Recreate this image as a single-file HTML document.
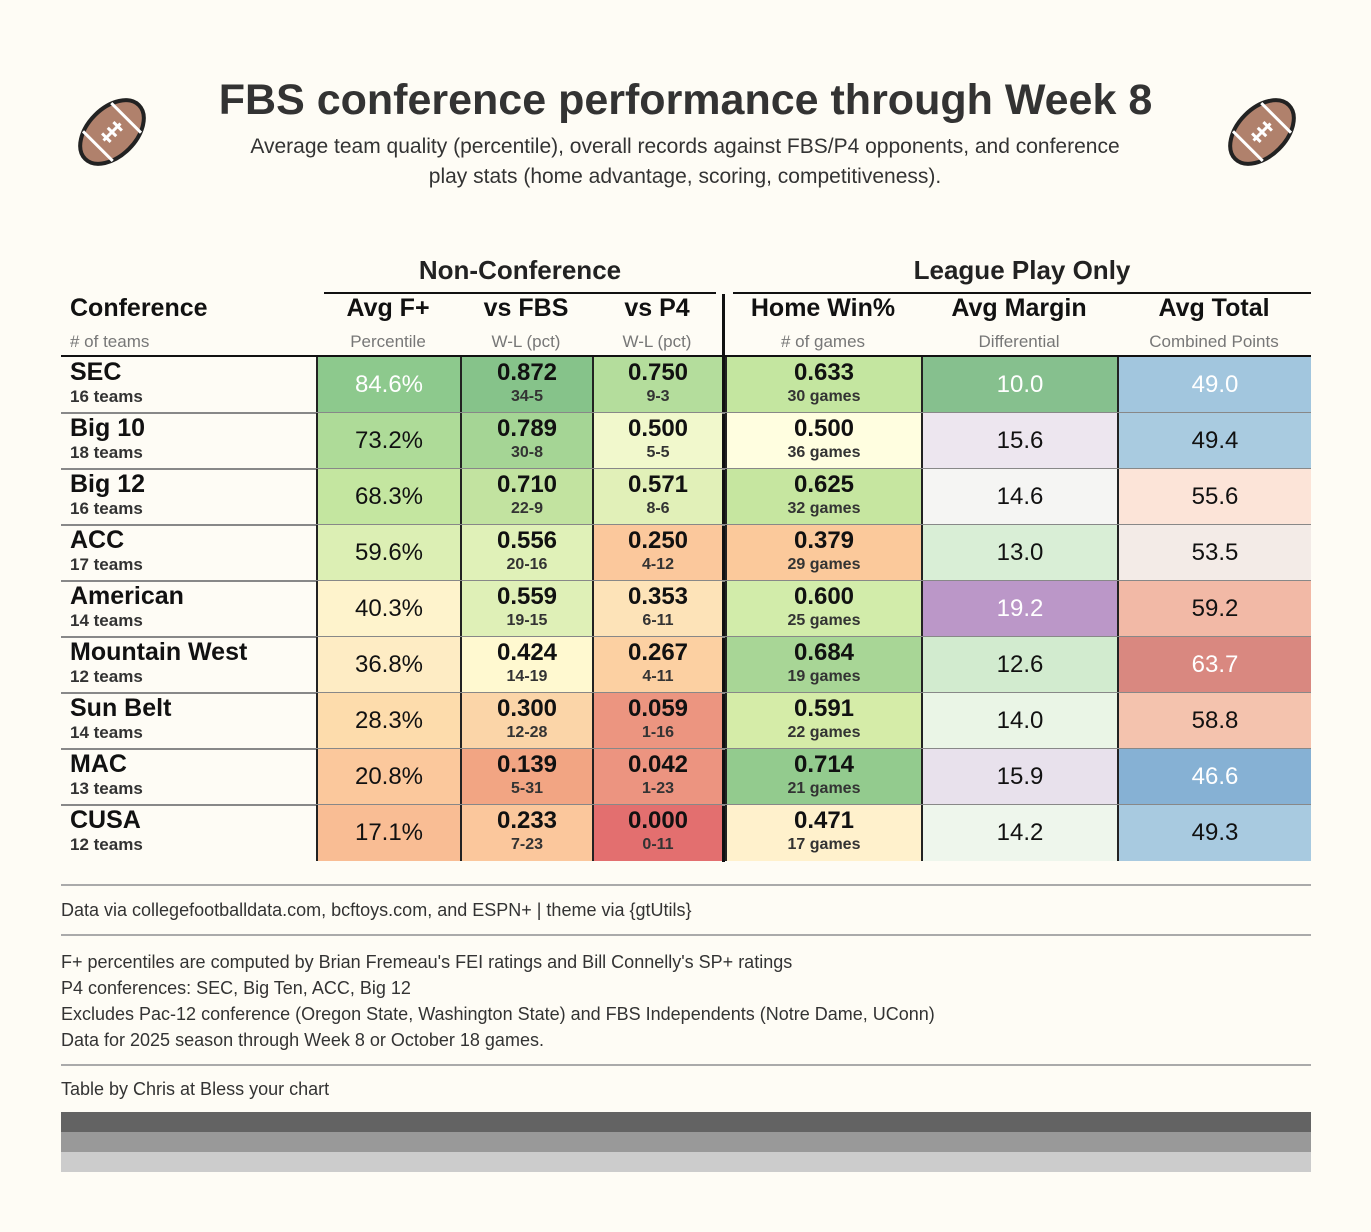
<!DOCTYPE html>
<html><head><meta charset="utf-8"><style>
body{margin:0;background:#fefcf5;font-family:"Liberation Sans","DejaVu Sans",sans-serif;color:#111}
#root{position:relative;width:1371px;height:1232px;overflow:hidden}
.a{position:absolute}
.c{text-align:center}
</style></head><body><div id="root">
<svg class="a" style="left:72px;top:93px" width="80" height="78" viewBox="0 0 80 78">
<g transform="rotate(-45 40 39)"><ellipse cx="40" cy="39" rx="38" ry="24" fill="#b0816c" stroke="#222" stroke-width="4"/>
<line x1="20" y1="18" x2="20" y2="60" stroke="#fff" stroke-width="3"/><line x1="60" y1="18" x2="60" y2="60" stroke="#fff" stroke-width="3"/>
<line x1="28" y1="39" x2="52" y2="39" stroke="#fff" stroke-width="3"/><line x1="32" y1="33" x2="32" y2="45" stroke="#fff" stroke-width="3"/><line x1="40" y1="33" x2="40" y2="45" stroke="#fff" stroke-width="3"/><line x1="48" y1="33" x2="48" y2="45" stroke="#fff" stroke-width="3"/></g></svg>
<svg class="a" style="left:1222px;top:93px" width="80" height="78" viewBox="0 0 80 78">
<g transform="rotate(-45 40 39)"><ellipse cx="40" cy="39" rx="38" ry="24" fill="#b0816c" stroke="#222" stroke-width="4"/>
<line x1="20" y1="18" x2="20" y2="60" stroke="#fff" stroke-width="3"/><line x1="60" y1="18" x2="60" y2="60" stroke="#fff" stroke-width="3"/>
<line x1="28" y1="39" x2="52" y2="39" stroke="#fff" stroke-width="3"/><line x1="32" y1="33" x2="32" y2="45" stroke="#fff" stroke-width="3"/><line x1="40" y1="33" x2="40" y2="45" stroke="#fff" stroke-width="3"/><line x1="48" y1="33" x2="48" y2="45" stroke="#fff" stroke-width="3"/></g></svg>
<div class="a c" style="left:0;width:1371px;top:76px;font-size:43px;font-weight:bold;color:#333">FBS conference performance through Week 8</div>
<div class="a c" style="left:240px;width:890px;top:132px;font-size:21px;line-height:30px;color:#333">Average team quality (percentile), overall records against FBS/P4 opponents, and conference play stats (home advantage, scoring, competitiveness).</div>
<div class="a c" style="left:324px;width:392px;top:255px;font-size:26px;font-weight:bold;color:#222">Non-Conference</div>
<div class="a" style="left:324px;width:392px;top:292px;height:2px;background:#111"></div>
<div class="a c" style="left:733px;width:578px;top:255px;font-size:26px;font-weight:bold;color:#222">League Play Only</div>
<div class="a" style="left:733px;width:578px;top:292px;height:2px;background:#111"></div>
<div id="tbl"></div>
<div class="a" style="left:722px;width:3px;top:294px;height:568px;background:#111"></div>
<div class="a" style="left:61px;width:1250px;top:884px;height:2px;background:#aaa"></div>
<div class="a" style="left:61px;top:900px;font-size:18px;color:#333">Data via collegefootballdata.com, bcftoys.com, and ESPN+ | theme via {gtUtils}</div>
<div class="a" style="left:61px;width:1250px;top:934px;height:2px;background:#aaa"></div>
<div class="a" style="left:61px;top:949px;font-size:18px;line-height:26px;color:#333">F+ percentiles are computed by Brian Fremeau's FEI ratings and Bill Connelly's SP+ ratings<br>P4 conferences: SEC, Big Ten, ACC, Big 12<br>Excludes Pac-12 conference (Oregon State, Washington State) and FBS Independents (Notre Dame, UConn)<br>Data for 2025 season through Week 8 or October 18 games.</div>
<div class="a" style="left:61px;width:1250px;top:1064px;height:2px;background:#aaa"></div>
<div class="a" style="left:61px;top:1079px;font-size:18px;color:#333">Table by Chris at Bless your chart</div>
<div class="a" style="left:61px;width:1250px;top:1112px;height:20px;background:#636363"></div>
<div class="a" style="left:61px;width:1250px;top:1132px;height:20px;background:#999"></div>
<div class="a" style="left:61px;width:1250px;top:1152px;height:20px;background:#ccc"></div>
</div>
<script>
const confs=["SEC","Big 10","Big 12","ACC","American","Mountain West","Sun Belt","MAC","CUSA"];
const teams=[16,18,16,17,14,12,14,13,12];
const fplus=[84.6,73.2,68.3,59.6,40.3,36.8,28.3,20.8,17.1];
const fbsPct=[0.872,0.789,0.710,0.556,0.559,0.424,0.300,0.139,0.233];
const fbsWL=["34-5","30-8","22-9","20-16","19-15","14-19","12-28","5-31","7-23"];
const p4Pct=[0.750,0.500,0.571,0.250,0.353,0.267,0.059,0.042,0.000];
const p4WL=["9-3","5-5","8-6","4-12","6-11","4-11","1-16","1-23","0-11"];
const homePct=[0.633,0.500,0.625,0.379,0.600,0.684,0.591,0.714,0.471];
const homeGames=[30,36,32,29,25,19,22,21,17];
const margin=[10.0,15.6,14.6,13.0,19.2,12.6,14.0,15.9,14.2];
const total=[49.0,49.4,55.6,53.5,59.2,63.7,58.8,46.6,49.3];
const cF=["#8dc98d","#aedb98","#c4e6a0","#dcefb4","#fef3cc","#feecc4","#fddcac","#fbc89c","#f9bd94"];
const cFBS=["#86c38a","#a5d595","#c2e3a0","#e0f1b8","#dff0b7","#fff9d0","#fbd5a8","#f2a583","#fbc79c"];
const cP4=["#b4dd9c","#f1f8cc","#e1f0b8","#fbc89c","#fde3b8","#fcd0a2","#ec9580","#ec9480","#e36f6f"];
const cH=["#c4e6a0","#fffee0","#c6e6a0","#fbc99b","#d2ecaa","#a8d696","#d5eca8","#93cb8e","#fff1cc"];
const cM=["#86c08e","#ede6ef","#f5f5f3","#d9eed6","#bb97c8","#d2ebcf","#eaf5e6","#e8e1ec","#eef6ec"];
const cT=["#a2c6de","#a9cbe0","#fce4d8","#f3ebe7","#f2b9a6","#d98880","#f4c3ae","#86b1d4","#a8cae0"];
const whiteF=[0],whiteM=[0,4],whiteT=[0,5,7];
const root=document.getElementById('root');
const cols=[[61,255],[316,144],[460,132],[592,130],[725,196],[921,196],[1117,194]];
const heads=[["Conference","# of teams"],["Avg F+","Percentile"],["vs FBS","W-L (pct)"],["vs P4","W-L (pct)"],["Home Win%","# of games"],["Avg Margin","Differential"],["Avg Total","Combined Points"]];
function mk(x,y,w,h,html,st){const d=document.createElement('div');d.className='a';d.style.cssText=`left:${x}px;top:${y}px;width:${w}px;height:${h}px;`+(st||'');d.innerHTML=html;root.appendChild(d);return d;}
heads.forEach((h,i)=>{const [x,w]=cols[i];const al=i==0?'left':'center';
const t=mk(x+(i==0?9:0),294,w,32,h[0],`text-align:${al};font-size:25px;font-weight:bold;color:#111;`);


const s=mk(x+(i==0?9:0),332,w,22,h[1],`text-align:${al};font-size:17px;color:#777;`);

});
mk(61,355,1250,2,'','background:#111;');
const top0=357,rh=56;
confs.forEach((c,r)=>{const y=top0+r*rh;
const n=mk(70,y+1,240,rh,`<div style="font-size:25px;font-weight:bold;line-height:29px">${c}</div><div style="font-size:17px;font-weight:bold;color:#333;line-height:20px">${teams[r]} teams</div>`,'');


const cells=[
 [fplus[r].toFixed(1)+'%',null,cF[r],whiteF.includes(r)],
 [fbsPct[r].toFixed(3),fbsWL[r],cFBS[r],false],
 [p4Pct[r].toFixed(3),p4WL[r],cP4[r],false],
 [homePct[r].toFixed(3),homeGames[r]+' games',cH[r],false],
 [margin[r].toFixed(1),null,cM[r],whiteM.includes(r)],
 [total[r].toFixed(1),null,cT[r],whiteT.includes(r)]];
cells.forEach((cl,k)=>{const [x,w]=cols[k+1];
const inner=cl[1]?`<div style="font-size:24px;font-weight:bold;line-height:28px;padding-top:2px">${cl[0]}</div><div style="font-size:16px;font-weight:bold;color:#333;line-height:20px">${cl[1]}</div>`:`<div style="font-size:24px;line-height:${rh}px;color:${cl[3]?'#fff':'#111'}">${cl[0]}</div>`;
const d=mk(x,y,w,rh,inner,`background:${cl[2]};text-align:center;box-sizing:border-box;border-left:2px solid #222;`);

});
if(r<8) mk(61,y+rh-1,1250,2,'','background:#888;');
});
</script></body></html>
